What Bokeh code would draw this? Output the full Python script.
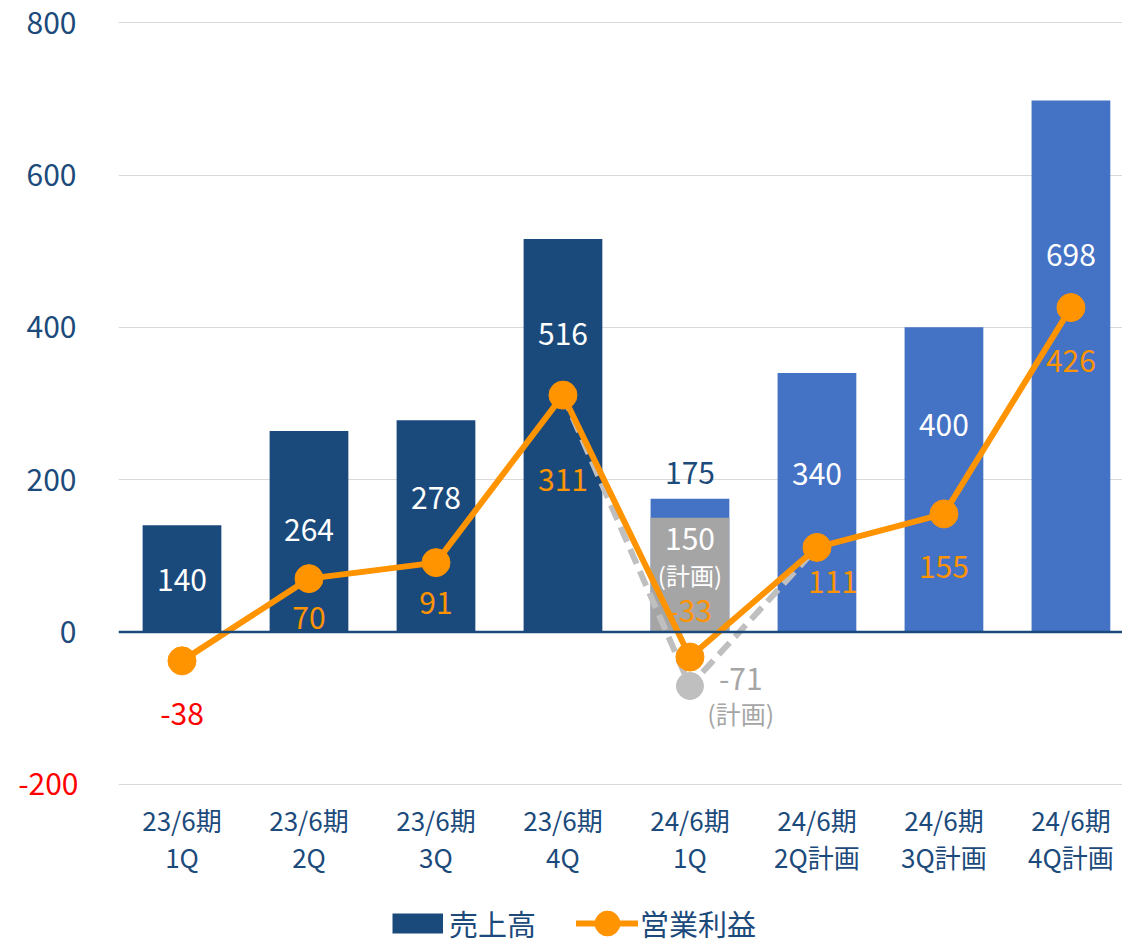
from bokeh.plotting import figure
from bokeh.layouts import column
from bokeh.models import (Range1d, FixedTicker, Span, Legend, LegendItem,
                          ColumnDataSource, LinearAxis)
from bokeh.core.properties import value
from bokeh.embed import file_html
from bokeh.resources import INLINE

# ---------------- data ----------------
periods = ["23/6期\n1Q", "23/6期\n2Q", "23/6期\n3Q", "23/6期\n4Q",
           "24/6期\n1Q", "24/6期\n2Q計画", "24/6期\n3Q計画", "24/6期\n4Q計画"]
sales = [140, 264, 278, 516, 175, 340, 400, 698]
profit = [-38, 70, 91, 311, -33, 111, 155, 426]
plan_idx = 4
plan_sales = 150
plan_profit = -71
y_ticks = [-200, 0, 200, 400, 600, 800]

# ---------------- styles / layout ----------------
NAVY = "#1A4A7C"
BLUE = "#4472C4"
GRAY_BAR = "#A5A5A5"
GRAY_LINE = "#BFBFBF"
ORANGE = "#FF9300"
RED = "#FF0000"
TXT = "#1B4A7B"
FONT = "Noto Sans CJK JP"

bar_colors = [NAVY, NAVY, NAVY, NAVY, BLUE, BLUE, BLUE, BLUE]
sales_label_y = [68, 134, 176, 391, 209, 208, 272, 495]
sales_label_color = ["white"] * 4 + [TXT] + ["white"] * 3
profit_label_y = [-108, 18, 38, 200, 28, 66, 85, 356]
profit_label_dx = [0, 0, 0, 0, 0, 0.126, 0, 0]
profit_label_color = [RED] + [ORANGE] * 7

x = list(range(len(periods)))

p = figure(width=1122, height=884, output_backend="svg", toolbar_location=None,
           x_range=Range1d(-0.5, 7.406), y_range=Range1d(-203, 803),
           min_border_left=118, min_border_right=0, min_border_top=20,
           min_border_bottom=98)
p.outline_line_color = None
p.background_fill_color = "white"

# x axis
p.xaxis.ticker = FixedTicker(ticks=x)
p.xaxis.major_label_overrides = {i: lab for i, lab in enumerate(periods)}
p.xaxis.axis_line_color = None
p.xaxis.major_tick_line_color = None
p.xaxis.major_tick_out = 0
p.xaxis.major_tick_in = 0
p.xaxis.minor_tick_line_color = None
p.xaxis.major_label_text_font = FONT
p.xaxis.major_label_text_font_size = "26px"
p.xaxis.major_label_text_color = TXT
p.xaxis.major_label_text_line_height = 1.0
p.xaxis.major_label_standoff = 14

# y axis (blue labels, non-negative ticks)
p.yaxis.ticker = FixedTicker(ticks=[t for t in y_ticks if t >= 0])
p.yaxis.axis_line_color = None
p.yaxis.major_tick_line_color = None
p.yaxis.major_tick_out = 0
p.yaxis.major_tick_in = 0
p.yaxis.minor_tick_line_color = None
p.yaxis.major_label_text_font = FONT
p.yaxis.major_label_text_font_size = "30px"
p.yaxis.major_label_text_color = TXT
p.yaxis.major_label_standoff = 42

# second left axis carrying the red negative tick label
neg_ticks = [t for t in y_ticks if t < 0]
neg_axis = LinearAxis(ticker=FixedTicker(ticks=neg_ticks))
neg_axis.major_label_overrides = {t: str(t) for t in neg_ticks}
neg_axis.axis_line_color = None
neg_axis.major_tick_line_color = None
neg_axis.major_tick_out = 0
neg_axis.major_tick_in = 0
neg_axis.minor_tick_line_color = None
neg_axis.major_label_text_font = FONT
neg_axis.major_label_text_font_size = "30px"
neg_axis.major_label_text_color = RED
neg_axis.major_label_standoff = -55
p.add_layout(neg_axis, "left")

p.xgrid.grid_line_color = None
p.ygrid.ticker = FixedTicker(ticks=y_ticks)
p.ygrid.grid_line_color = "#D9D9D9"
p.ygrid.grid_line_width = 1

# bars
p.vbar(x=x, top=sales, width=0.62, color=bar_colors, line_color=None)
p.vbar(x=[plan_idx], top=[plan_sales], width=0.62, color=GRAY_BAR, line_color=None)

# zero line
p.add_layout(Span(location=0, dimension="width", line_color=NAVY, line_width=2.5))

# plan dashed line
plan_x = [plan_idx - 1, plan_idx, plan_idx + 1]
plan_y = [profit[plan_idx - 1], plan_profit, profit[plan_idx + 1]]
p.line(plan_x, plan_y, line_color=GRAY_LINE, line_width=6, line_dash="16 8")
p.scatter([plan_idx], [plan_profit], size=27, color=GRAY_LINE)

# profit line
p.line(x, profit, line_color=ORANGE, line_width=6, line_join="round")
p.scatter(x, profit, size=28, color=ORANGE)

# sales labels
src_s = ColumnDataSource(dict(x=x, y=sales_label_y, t=[str(v) for v in sales],
                              c=sales_label_color))
p.text(x="x", y="y", text="t", text_color="c", source=src_s,
       text_font=value(FONT), text_font_size="30px", text_align="center",
       text_baseline="middle")

# plan labels
p.text(x=[plan_idx], y=[122], text=[str(plan_sales)], text_color="white",
       text_font=value(FONT), text_font_size="30px", text_align="center",
       text_baseline="middle")
p.text(x=[plan_idx], y=[76], text=["(計画)"], text_color="white",
       text_font=value(FONT), text_font_size="24px", text_align="center",
       text_baseline="middle")
p.text(x=[plan_idx + 0.40], y=[-62], text=[str(plan_profit)], text_color=GRAY_BAR,
       text_font=value(FONT), text_font_size="30px", text_align="center",
       text_baseline="middle")
p.text(x=[plan_idx + 0.40], y=[-106], text=["(計画)"], text_color=GRAY_BAR,
       text_font=value(FONT), text_font_size="25px", text_align="center",
       text_baseline="middle")

# profit labels
src_p = ColumnDataSource(dict(x=[xi + d for xi, d in zip(x, profit_label_dx)],
                              y=profit_label_y, t=[str(v) for v in profit],
                              c=profit_label_color))
p.text(x="x", y="y", text="t", text_color="c", source=src_p,
       text_font=value(FONT), text_font_size="30px", text_align="center",
       text_baseline="middle")

# ---------------- legend strip ----------------
lg = figure(width=1122, height=60, output_backend="svg", toolbar_location=None,
            x_range=Range1d(0, 1), y_range=Range1d(0, 1),
            x_axis_type=None, y_axis_type=None, min_border=0)
lg.outline_line_color = None
lg.xgrid.grid_line_color = None
lg.ygrid.grid_line_color = None

bar_proxy = lg.line([-10, -9], [-10, -10], line_color=NAVY, line_width=20,
                    line_cap="butt")
line_proxy = lg.line([-10, -9], [-10, -10], line_color=ORANGE, line_width=6,
                     line_cap="round")
dot_proxy = lg.scatter([-10], [-10], size=28, color=ORANGE)

leg1 = Legend(items=[LegendItem(label="売上高", renderers=[bar_proxy])],
              location=(274, -11), orientation="horizontal",
              glyph_width=51, glyph_height=64, label_standoff=6, padding=0,
              margin=0, spacing=0, background_fill_alpha=0, border_line_alpha=0,
              label_text_font=FONT, label_text_font_size="29px",
              label_text_color=TXT)
leg2 = Legend(items=[LegendItem(label="営業利益", renderers=[line_proxy, dot_proxy])],
              location=(458, -11), orientation="horizontal",
              glyph_width=62, glyph_height=64, label_standoff=2, padding=0,
              margin=0, spacing=0, background_fill_alpha=0, border_line_alpha=0,
              label_text_font=FONT, label_text_font_size="29px",
              label_text_color=TXT)
lg.add_layout(leg1, "center")
lg.add_layout(leg2, "center")

layout = column(p, lg, spacing=0)
open("out.html", "w").write(file_html(layout, INLINE))
